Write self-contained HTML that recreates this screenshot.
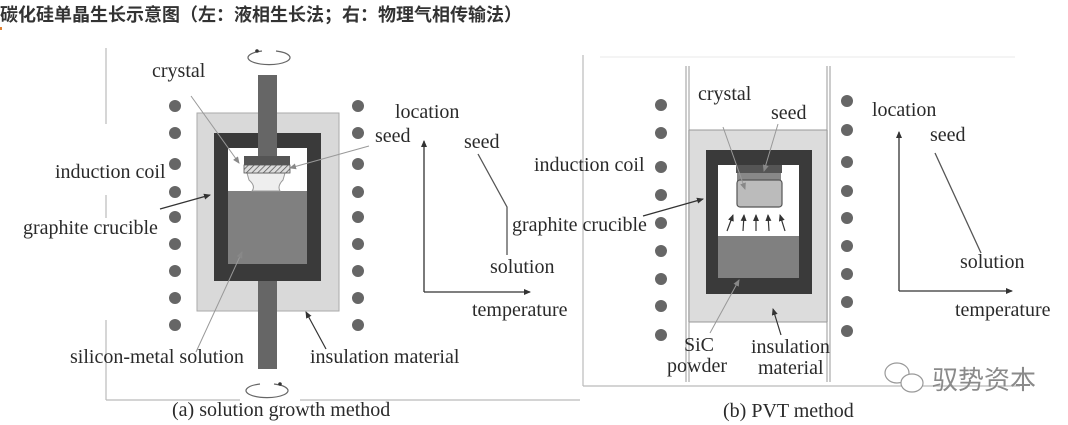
<!DOCTYPE html>
<html><head><meta charset="utf-8"><style>
html,body{margin:0;padding:0;background:#fff;width:1068px;height:425px;overflow:hidden}
svg{display:block}
text{font-family:"Liberation Serif",serif;fill:#2a2a2a}
.t{font-size:20px}
</style></head><body>
<svg width="1068" height="425" viewBox="0 0 1068 425" xmlns="http://www.w3.org/2000/svg">
<defs>
<marker id="ah" markerWidth="8" markerHeight="8" refX="6" refY="3" orient="auto" markerUnits="userSpaceOnUse"><path d="M0,0 L7,3 L0,6 z" fill="#333"/></marker>
<marker id="al" markerWidth="8" markerHeight="8" refX="6" refY="3" orient="auto" markerUnits="userSpaceOnUse"><path d="M0,0 L7,3 L0,6 z" fill="#888"/></marker>
<pattern id="hatch" width="4" height="4" patternUnits="userSpaceOnUse" patternTransform="rotate(45)"><rect width="4" height="4" fill="#ddd"/><line x1="0" y1="0" x2="0" y2="4" stroke="#555" stroke-width="1.5"/></pattern>
</defs>
<text x="0" y="21" style="font-family:'Liberation Sans','Noto Sans CJK SC',sans-serif;font-weight:bold;font-size:18px;fill:#333">碳化硅单晶生长示意图（左：液相生长法；右：物理气相传输法）</text>
<rect x="0" y="27" width="2" height="3" fill="#e08030"/>

<!-- LEFT PANEL -->
<g stroke="#bbb" stroke-width="1.2" fill="none">
<line x1="106" y1="48" x2="106" y2="124"/><line x1="106" y1="195" x2="106" y2="218"/><line x1="106" y1="320" x2="106" y2="400"/>
<line x1="106" y1="400" x2="240" y2="400"/><line x1="300" y1="400" x2="580" y2="400"/>
</g>
<g fill="#666">
<circle cx="175" cy="106" r="6"/><circle cx="175" cy="133" r="6"/><circle cx="175" cy="164" r="6"/><circle cx="175" cy="192" r="6"/><circle cx="175" cy="217" r="6"/><circle cx="175" cy="244" r="6"/><circle cx="175" cy="271" r="6"/><circle cx="175" cy="298" r="6"/><circle cx="175" cy="325" r="6"/>
<circle cx="358" cy="106" r="6"/><circle cx="358" cy="133" r="6"/><circle cx="358" cy="164" r="6"/><circle cx="358" cy="192" r="6"/><circle cx="358" cy="217" r="6"/><circle cx="358" cy="244" r="6"/><circle cx="358" cy="271" r="6"/><circle cx="358" cy="298" r="6"/><circle cx="358" cy="325" r="6"/>
</g>
<rect x="197" y="113" width="142" height="198" fill="#d9d9d9" stroke="#aaa"/>
<rect x="214" y="133" width="107" height="148" fill="#3a3a3a"/>
<rect x="228" y="148" width="79" height="116" fill="#fff"/>
<rect x="228" y="191" width="79" height="73" fill="#808080"/>
<path d="M247,173 L285,173 L283,180 Q277,186 280,191 L252,191 Q256,186 249,180 Z" fill="#eee" stroke="#999"/>
<rect x="244" y="165" width="46" height="8" fill="url(#hatch)" stroke="#555" stroke-width="0.8"/>
<rect x="244" y="156" width="46" height="9" fill="#555"/>
<rect x="258" y="75" width="19" height="81" fill="#666"/>
<rect x="258" y="281" width="19" height="88" fill="#666"/>
<path d="M262,51 A21,7 0 1 0 276,51" fill="none" stroke="#666" stroke-width="1.2"/>
<circle cx="257" cy="51" r="1.8" fill="#333"/>
<path d="M274,384 A21,7 0 1 1 260,384" fill="none" stroke="#666" stroke-width="1.2"/>
<circle cx="280" cy="384" r="1.8" fill="#333"/>
<g stroke="#999" stroke-width="1" fill="none" marker-end="url(#al)">
<line x1="191" y1="96" x2="239" y2="163"/>
<line x1="369" y1="146" x2="290" y2="168"/>
<line x1="196" y1="352" x2="242" y2="252"/>
</g>
<g stroke="#333" stroke-width="1.2" fill="none" marker-end="url(#ah)">
<line x1="160" y1="209" x2="210" y2="195"/>
<line x1="326" y1="349" x2="306" y2="312"/>
</g>
<g stroke="#333" stroke-width="1.3" fill="none">
<line x1="424" y1="292" x2="424" y2="141" marker-end="url(#ah)"/>
<line x1="424" y1="292" x2="530" y2="292" marker-end="url(#ah)"/>
</g>
<polyline points="478,154 507,207 507,255" fill="none" stroke="#555" stroke-width="1.3"/>
<text class="t" x="152" y="77">crystal</text>
<text class="t" x="395" y="118">location</text>
<text class="t" x="375" y="142">seed</text>
<text class="t" x="464" y="148">seed</text>
<text class="t" x="55" y="178">induction coil</text>
<text class="t" x="23" y="234">graphite crucible</text>
<text class="t" x="490" y="273">solution</text>
<text class="t" x="472" y="316">temperature</text>
<text class="t" x="70" y="363">silicon-metal solution</text>
<text class="t" x="310" y="363">insulation material</text>
<text class="t" x="172" y="416">(a) solution growth method</text>

<!-- RIGHT PANEL -->
<g stroke="#bbb" stroke-width="1.2" fill="none">
<line x1="583" y1="55" x2="583" y2="386"/><line x1="583" y1="386" x2="1020" y2="386"/>
<line x1="600" y1="57" x2="1015" y2="57" stroke="#eee"/>
</g>
<rect x="688" y="130" width="140" height="192" fill="#dcdcdc"/>
<g stroke="#999" stroke-width="1" fill="none">
<line x1="686" y1="66" x2="686" y2="382"/><line x1="689" y1="66" x2="689" y2="382"/>
<line x1="827" y1="66" x2="827" y2="382"/><line x1="830" y1="66" x2="830" y2="382"/>
<line x1="689" y1="130" x2="827" y2="130"/><line x1="689" y1="322" x2="827" y2="322"/>
</g>
<g fill="#666">
<circle cx="661" cy="105" r="6"/><circle cx="661" cy="133" r="6"/><circle cx="661" cy="167" r="6"/><circle cx="661" cy="195" r="6"/><circle cx="661" cy="223" r="6"/><circle cx="661" cy="251" r="6"/><circle cx="661" cy="279" r="6"/><circle cx="661" cy="306" r="6"/><circle cx="661" cy="335" r="6"/>
<circle cx="847" cy="101" r="6"/><circle cx="847" cy="130" r="6"/><circle cx="847" cy="162" r="6"/><circle cx="847" cy="191" r="6"/><circle cx="847" cy="218" r="6"/><circle cx="847" cy="246" r="6"/><circle cx="847" cy="274" r="6"/><circle cx="847" cy="302" r="6"/><circle cx="847" cy="331" r="6"/>
</g>
<rect x="706" y="150" width="106" height="144" fill="#3a3a3a"/>
<rect x="718" y="165" width="81" height="113" fill="#fff"/>
<rect x="718" y="236" width="81" height="42" fill="#808080"/>
<rect x="736" y="165" width="46" height="8" fill="#555"/>
<rect x="737" y="173" width="44" height="8" fill="#888"/>
<rect x="737" y="180" width="45" height="27" rx="3" fill="#bbb" stroke="#555" stroke-width="1.2"/>
<g stroke="#333" stroke-width="1.2" fill="none" marker-end="url(#ah)">
<line x1="727" y1="231" x2="733" y2="215"/>
<line x1="743" y1="231" x2="744" y2="215"/>
<line x1="756" y1="231" x2="756" y2="215"/>
<line x1="769" y1="231" x2="768" y2="215"/>
<line x1="785" y1="231" x2="780" y2="215"/>
<line x1="643" y1="216" x2="703" y2="199"/>
<line x1="781" y1="335" x2="773" y2="309"/>
</g>
<g stroke="#999" stroke-width="1" fill="none" marker-end="url(#al)">
<line x1="723" y1="127" x2="745" y2="189"/>
<line x1="778" y1="124" x2="764" y2="171"/>
<line x1="710" y1="333" x2="739" y2="280"/>
</g>
<g stroke="#333" stroke-width="1.3" fill="none">
<line x1="899" y1="291" x2="899" y2="132" marker-end="url(#ah)"/>
<line x1="899" y1="291" x2="1012" y2="291" marker-end="url(#ah)"/>
</g>
<line x1="935" y1="153" x2="981" y2="253" stroke="#555" stroke-width="1.3"/>
<text class="t" x="698" y="100">crystal</text>
<text class="t" x="771" y="119">seed</text>
<text class="t" x="872" y="116">location</text>
<text class="t" x="930" y="141">seed</text>
<text class="t" x="534" y="171">induction coil</text>
<text class="t" x="512" y="231">graphite crucible</text>
<text class="t" x="960" y="268">solution</text>
<text class="t" x="955" y="316">temperature</text>
<text class="t" x="684" y="351">SiC</text>
<text class="t" x="667" y="372">powder</text>
<text class="t" x="751" y="353">insulation</text>
<text class="t" x="758" y="374">material</text>
<text class="t" x="723" y="417">(b) PVT method</text>

<!-- watermark -->
<g fill="none" stroke="#999" stroke-width="1.2">
<ellipse cx="897" cy="373" rx="12" ry="10" fill="#fff"/>
<ellipse cx="912" cy="383" rx="11" ry="9" fill="#fff"/>
</g>
<text x="932" y="389" style="font-family:'Noto Sans CJK SC',sans-serif;font-size:26px;fill:#8a8a8a">驭势资本</text>
</svg>
</body></html>
